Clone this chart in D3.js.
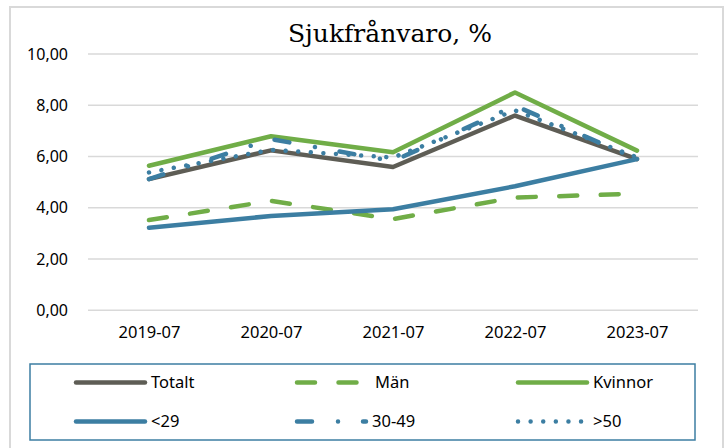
<!DOCTYPE html>
<html>
<head>
<meta charset="utf-8">
<script src="https://cdn.jsdelivr.net/npm/d3@7"></script>
<style>
  body { margin: 0; background: #fff; }
  svg { display: block; }
  text { font-family: "Noto Sans", "Open Sans", sans-serif; fill: #000; }
  .title { font-family: "DejaVu Serif", "Liberation Serif", serif; }
</style>
</head>
<body>
<svg class="svg-canvas" width="725" height="448"></svg>
<script>
var categories = ["2019-07", "2020-07", "2021-07", "2022-07", "2023-07"];
var yTicks = [0, 2, 4, 6, 8, 10];
var seriesNames = ["Totalt", "Män", "Kvinnor", "<29", "30-49", ">50"];
var totalt = [5.12, 6.24, 5.59, 7.6, 5.9];
var man = [3.52, 4.27, 3.56, 4.4, 4.55];
var kvinnor = [5.64, 6.79, 6.17, 8.5, 6.23];
var under29 = [3.22, 3.68, 3.94, 4.84, 5.9];
var age30to49 = [5.12, 6.68, 5.82, 7.98, 5.9];
var over50 = [5.38, 6.26, 5.96, 7.8, 5.97];

var svg = d3.select(".svg-canvas");

// chart frame
svg.append("rect")
  .attr("x", 10).attr("y", 7)
  .attr("width", 713).attr("height", 460)
  .attr("fill", "#fff")
  .attr("stroke", "#d9d9d9")
  .attr("stroke-width", 2);

var x = d3.scalePoint().domain(categories).range([88, 698]).padding(0.5);
var y = d3.scaleLinear().domain([0, 10]).range([310.3, 54]);

var sv = d3.formatLocale({decimal: ",", thousands: " ", grouping: [3], currency: ["", " kr"]});
var fmt = sv.format(".2f");

// gridlines
svg.append("g").selectAll("line")
  .data(yTicks).enter()
  .append("line")
  .attr("x1", 88).attr("x2", 698)
  .attr("y1", function(d) { return y(d); })
  .attr("y2", function(d) { return y(d); })
  .attr("stroke", "#d9d9d9")
  .attr("stroke-width", 1.5);

// y axis labels
var yAxis = svg.append("g")
  .attr("transform", "translate(76,0)")
  .call(d3.axisLeft(y).tickValues(yTicks).tickFormat(fmt).tickSize(0).tickPadding(8));
yAxis.select(".domain").remove();
yAxis.selectAll("text")
  .style("font-size", "16px")
  .style("fill", "#000");

// x axis labels
var xAxis = svg.append("g")
  .attr("transform", "translate(0,318)")
  .call(d3.axisBottom(x).tickSize(0).tickPadding(8));
xAxis.select(".domain").remove();
xAxis.selectAll("text")
  .style("font-size", "16.5px")
  .style("fill", "#000");

// title
svg.append("text")
  .attr("class", "title")
  .attr("x", 390).attr("y", 42)
  .attr("text-anchor", "middle")
  .style("font-size", "25px")
  .text("Sjukfrånvaro, %");

var gray = "#5e5d55", green = "#70ad47", blue = "#3c7ea2";
var styles = [
  {color: gray, dash: null},
  {color: green, dash: "18,23.5"},
  {color: green, dash: null},
  {color: blue, dash: null},
  {color: blue, dash: "15,26,0.01,25"},
  {color: blue, dash: "0.01,12.6"}
];
var allValues = [totalt, man, kvinnor, under29, age30to49, over50];

var line = d3.line()
  .x(function(d, i) { return x(categories[i]); })
  .y(function(d) { return y(d); });

svg.append("g").selectAll("path")
  .data(allValues).enter()
  .append("path")
  .attr("d", line)
  .attr("fill", "none")
  .attr("stroke", function(d, i) { return styles[i].color; })
  .attr("stroke-width", 4.5)
  .attr("stroke-linecap", "round")
  .attr("stroke-linejoin", "round")
  .attr("stroke-dasharray", function(d, i) { return styles[i].dash; });

// legend
svg.append("rect")
  .attr("x", 30).attr("y", 364)
  .attr("width", 665).attr("height", 76)
  .attr("fill", "#fff")
  .attr("stroke", "#3c7ea2")
  .attr("stroke-width", 1.5);

var legendCols = [76, 297, 518];
var legendRows = [382.5, 421.5];
var legend = svg.append("g").selectAll("g")
  .data(seriesNames).enter()
  .append("g")
  .attr("transform", function(d, i) {
    return "translate(" + legendCols[i % 3] + "," + legendRows[Math.floor(i / 3)] + ")";
  });

legend.append("line")
  .attr("x1", 0).attr("x2", 69)
  .attr("stroke", function(d, i) { return styles[i].color; })
  .attr("stroke-width", 4.5)
  .attr("stroke-linecap", "round")
  .attr("stroke-dasharray", function(d, i) { return styles[i].dash; });

legend.append("text")
  .attr("x", function(d) { return d === "Män" ? 78 : 75; })
  .attr("dy", "0.35em")
  .style("font-size", "16.5px")
  .text(function(d) { return d; });
</script>
</body>
</html>
